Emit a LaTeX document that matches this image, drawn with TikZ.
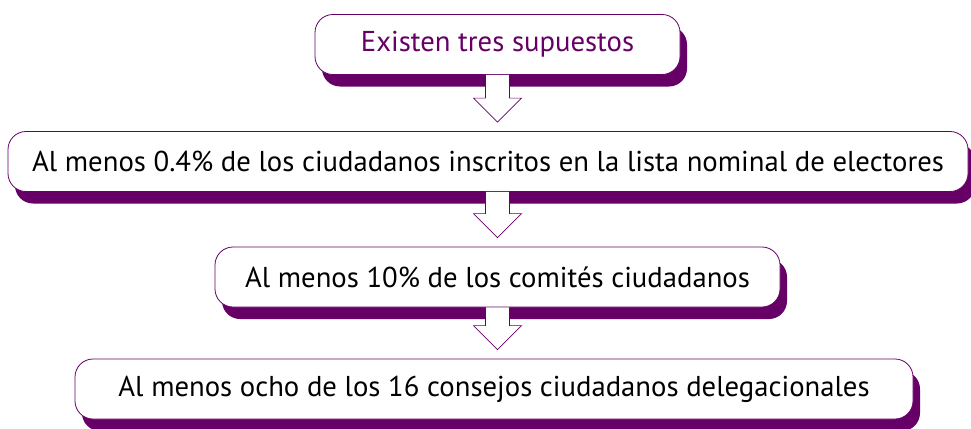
\documentclass[tikz,border=0pt]{standalone}
\usepackage{fontspec}
\setmainfont{PT Sans}
\usetikzlibrary{calc, shadows}
\definecolor{morado}{RGB}{102,0,102}
\tikzset{
  supuesto/.style={draw=morado, line width=0.8pt, fill=white, rounded corners=18pt,
    minimum height=60pt, inner sep=0pt, font=\fontsize{28.7}{30}\selectfont,
    general shadow={fill=morado, shadow xshift=7pt, shadow yshift=-12pt}},
  flecha/.style={draw=morado, fill=white, line width=0.7pt, line join=miter}
}

\begin{document}
\begin{tikzpicture}[x=1pt, y=-1pt]
            \useasboundingbox (0,0) rectangle (971,428);

            \node[supuesto, minimum width=365pt, text=morado] (s1) at (497.5,44.5) {Existen tres supuestos};
            \node[supuesto, minimum width=960pt] (s2) at (488,161.5) {Al menos 0.4\% de los ciudadanos inscritos en la lista nominal de electores};
            \node[supuesto, minimum width=565pt] (s3) at (497.5,277) {Al menos 10\% de los comités ciudadanos};
            \node[supuesto, minimum width=838pt] (s4) at (494,389) {Al menos ocho de los 16 consejos ciudadanos delegacionales};

            \foreach \a/\b in {s1/s2, s2/s3, s3/s4} {
                \coordinate (ini) at (\a.south -| s1.south);
                \coordinate (pun) at ($(\b.north -| s1.south)+(0,9pt)$);
                \draw[flecha] ($(ini)+(-12pt,0)$) -- ($(pun)+(-12pt,24pt)$) -- ($(pun)+(-24pt,24pt)$) -- (pun)
                    -- ($(pun)+(24pt,24pt)$) -- ($(pun)+(12pt,24pt)$) -- ($(ini)+(12pt,0)$);
            }
        \end{tikzpicture}
\end{document}
